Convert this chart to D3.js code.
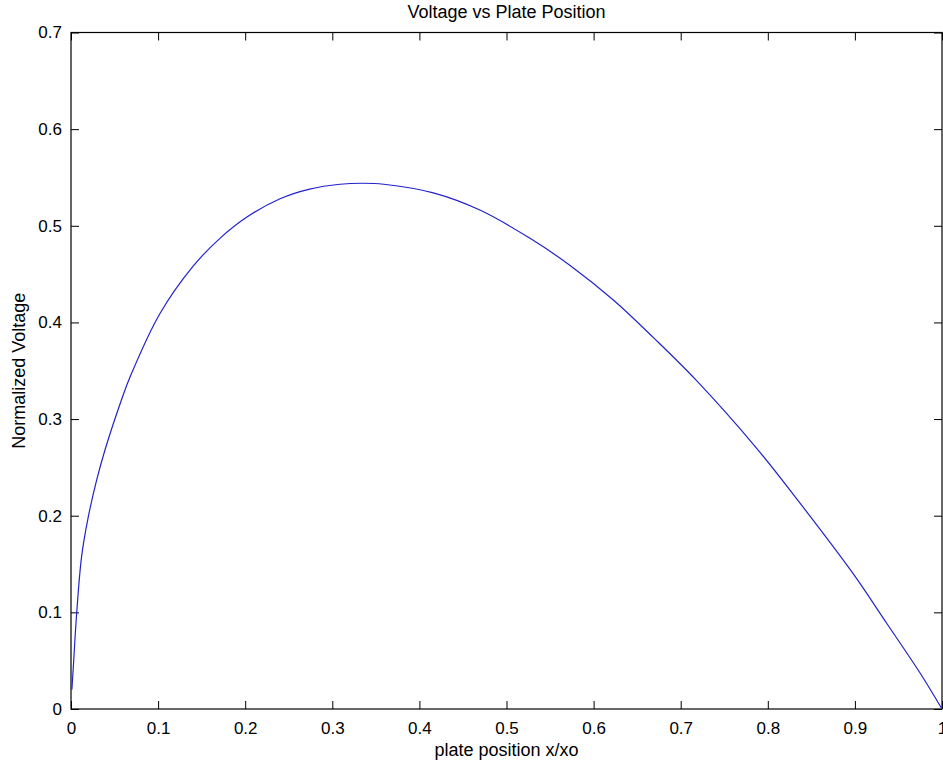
<!DOCTYPE html>
<html>
<head>
<meta charset="utf-8">
<script src="https://cdn.jsdelivr.net/npm/d3@7"></script>
<style>
  body { margin: 0; background: #fff; }
  text { font-family: "Liberation Sans", Arial, sans-serif; fill: #000; }
</style>
</head>
<body>
<svg id="svg"></svg>
<script>
// values
var positions = [0.001, 0.0027, 0.0065, 0.0122, 0.0199, 0.0295, 0.039, 0.058, 0.068,
                 0.102, 0.140, 0.171, 0.202, 0.240, 0.274, 0.309, 0.335, 0.359, 0.416, 0.470,
                 0.527, 0.573, 0.623, 0.669, 0.718, 0.787, 0.837, 0.898, 0.9365, 0.975, 1.0];
var voltages  = [0.020, 0.044, 0.099, 0.158, 0.199, 0.237, 0.268, 0.320, 0.344,
                 0.409, 0.458, 0.487, 0.509, 0.528, 0.538, 0.543, 0.544, 0.543, 0.534, 0.516,
                 0.487, 0.459, 0.423, 0.384, 0.340, 0.270, 0.213, 0.140, 0.0887, 0.037, 0.0];
var xTicks = [0, 0.1, 0.2, 0.3, 0.4, 0.5, 0.6, 0.7, 0.8, 0.9, 1];
var yTicks = [0, 0.1, 0.2, 0.3, 0.4, 0.5, 0.6, 0.7];
var titleText = "Voltage vs Plate Position";
var xLabelText = "plate position x/xo";
var yLabelText = "Normalized Voltage";

var width = 943, height = 765;
var margin = {left: 71, right: 1, top: 32.5, bottom: 56};

var svg = d3.select("#svg").attr("width", width).attr("height", height);

var x = d3.scaleLinear().domain([0, 1]).range([margin.left, width - margin.right]);
var y = d3.scaleLinear().domain([0, 0.7]).range([height - margin.bottom, margin.top]);

var tickLen = 8;
var fmt = function(d) { return d3.format("")(d); };

// bottom axis with labels, top axis mirrored
svg.append("g")
    .attr("transform", "translate(0," + y(0) + ")")
    .call(d3.axisBottom(x).tickValues(xTicks).tickSize(-tickLen).tickPadding(13).tickFormat(fmt))
    .call(function(g) {
        g.select(".domain").remove();
        g.selectAll("text").attr("font-size", 17).attr("font-family", "Liberation Sans, Arial, sans-serif");
    });
svg.append("g")
    .attr("transform", "translate(0," + y(0.7) + ")")
    .call(d3.axisTop(x).tickValues(xTicks).tickSize(-tickLen).tickFormat(""))
    .call(function(g) { g.select(".domain").remove(); });

// left axis with labels, right axis mirrored
svg.append("g")
    .attr("transform", "translate(" + x(0) + ",0)")
    .call(d3.axisLeft(y).tickValues(yTicks).tickSize(-tickLen).tickPadding(9).tickFormat(fmt))
    .call(function(g) {
        g.select(".domain").remove();
        g.selectAll("text").attr("font-size", 17).attr("font-family", "Liberation Sans, Arial, sans-serif");
    });
svg.append("g")
    .attr("transform", "translate(" + x(1) + ",0)")
    .call(d3.axisRight(y).tickValues(yTicks).tickSize(-tickLen).tickFormat(""))
    .call(function(g) { g.select(".domain").remove(); });

svg.selectAll(".tick line").attr("stroke", "#000");

// box
svg.append("rect")
    .attr("x", x(0)).attr("y", y(0.7))
    .attr("width", x(1) - x(0)).attr("height", y(0) - y(0.7))
    .attr("fill", "none").attr("stroke", "#000").attr("stroke-width", 1.2);

var pts = positions.map(function(p, i) { return [p, voltages[i]]; });
var line = d3.line()
    .x(function(d) { return x(d[0]); })
    .y(function(d) { return y(d[1]); })
    .curve(d3.curveCatmullRom.alpha(0.5));

svg.append("path")
    .datum(pts)
    .attr("d", line)
    .attr("fill", "none")
    .attr("stroke", "#2222cc")
    .attr("stroke-width", 1.2);

svg.append("text")
    .attr("x", (x(0) + x(1)) / 2).attr("y", 18)
    .attr("text-anchor", "middle").attr("font-size", 18)
    .text(titleText);

svg.append("text")
    .attr("x", (x(0) + x(1)) / 2).attr("y", 756)
    .attr("text-anchor", "middle").attr("font-size", 18)
    .text(xLabelText);

svg.append("text")
    .attr("transform", "translate(25," + (y(0) + y(0.7)) / 2 + ") rotate(-90)")
    .attr("text-anchor", "middle").attr("font-size", 18)
    .text(yLabelText);
</script>
</body>
</html>
